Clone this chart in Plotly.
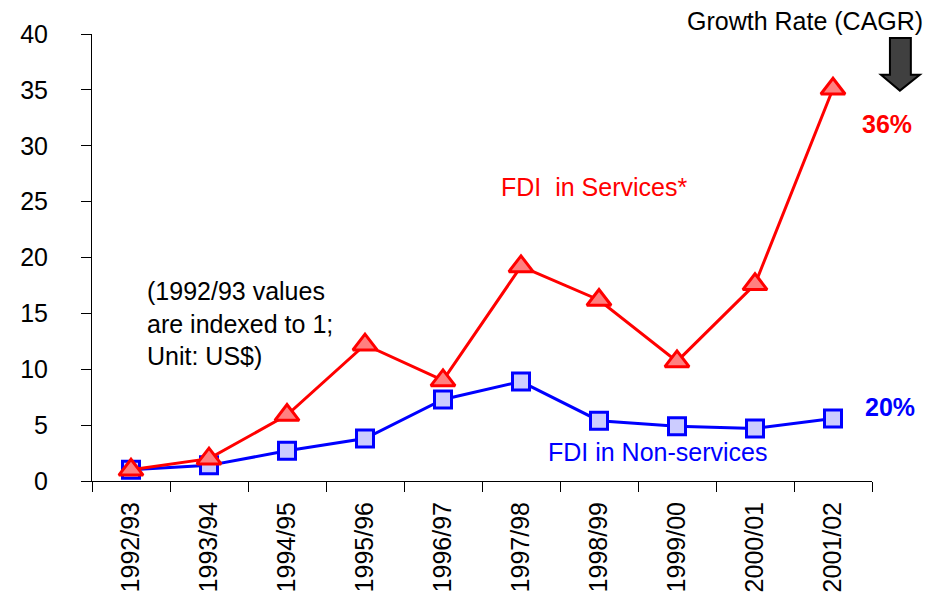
import plotly.graph_objects as go

# fiscal years on the x axis
years = ['1992/93', '1993/94', '1994/95', '1995/96', '1996/97',
         '1997/98', '1998/99', '1999/00', '2000/01', '2001/02']

# indexed values (1992/93 = 1)
services = [1.0, 2.0, 5.9, 12.2, 9.0, 19.2, 16.2, 10.7, 17.6, 35.1]
non_services = [1.0, 1.4, 2.7, 3.8, 7.3, 8.9, 5.4, 4.9, 4.7, 5.6]

y_ticks = [0, 5, 10, 15, 20, 25, 30, 35, 40]

font_name = "Liberation Sans, Arial, sans-serif"

# plot area in the reference: x 89..872, y 31..481 (page pixels)
# page body has an 8px offset, margins are set to compensate
X0, X1, Y0, Y1 = 89, 872, 31, 481


def px(x):
    return (x - X0) / (X1 - X0)


def py(y):
    return (Y1 - y) / (Y1 - Y0)


fig = go.Figure()

# non-services line (blue squares)
fig.add_trace(go.Scatter(
    x=years, y=non_services,
    mode='lines+markers',
    line=dict(color='#0000ff', width=3),
    marker=dict(symbol='square', size=17, color='#ccccff',
                line=dict(color='#0000ff', width=3)),
    showlegend=False
))

# services line (red triangles)
fig.add_trace(go.Scatter(
    x=years, y=services,
    mode='lines+markers',
    line=dict(color='#ff0000', width=3),
    marker=dict(symbol='triangle-up', size=21, color='#ff8080',
                line=dict(color='#ff0000', width=3)),
    showlegend=False
))

fig.update_layout(
    width=932, height=597,
    margin=dict(l=X0 - 8, r=932 + 8 - X1, t=Y0 - 8, b=597 + 8 - Y1),
    paper_bgcolor='white',
    plot_bgcolor='white',
    font=dict(family=font_name, size=26, color='black'),
    xaxis=dict(
        type='category',
        range=[-0.5, 9.5],
        tickson='boundaries',
        ticks='outside', ticklen=10, tickcolor='black', tickwidth=1,
        tickangle=-90,
        ticklabelstandoff=10,
        showline=True, linecolor='black', linewidth=1,
        showgrid=False, zeroline=False,
        tickfont=dict(size=25),
    ),
    yaxis=dict(
        range=[0, 40],
        tickvals=y_ticks,
        ticks='outside', ticklen=10, tickcolor='black', tickwidth=1,
        ticklabelstandoff=28,
        showline=True, linecolor='black', linewidth=1,
        showgrid=False, zeroline=False,
        tickfont=dict(size=25),
    ),
)


def label(text, x, y, color, anchor='center'):
    fig.add_annotation(text=text, xref='paper', yref='paper',
                       x=px(x), y=py(y), xanchor=anchor, yanchor='middle',
                       align='left', showarrow=False,
                       font=dict(color=color, size=25))


# text labels
label("FDI  in Services*", 593, 185, '#ff0000')
label("FDI in Non-services", 657, 452, '#0000ff')
label("(1992/93 values<br>are indexed to 1;<br>Unit: US$)", 142, 322, 'black', 'left')
label("<b>36%</b>", 887, 122, '#ff0000')
label("<b>20%</b>", 890, 407, '#0000ff')
label("Growth Rate (CAGR)", 805, 18, 'black')

# block arrow pointing down, top right
arrow_pts = [(890, 35), (911, 35), (911, 72), (920, 72), (900, 88), (881, 72), (890, 72)]
path = "M " + " L ".join(f"{px(x)},{py(y)}" for x, y in arrow_pts) + " Z"
fig.add_shape(type='path', path=path, xref='paper', yref='paper',
              fillcolor='#404040', line=dict(color='black', width=2))

fig.write_html("out.html")
